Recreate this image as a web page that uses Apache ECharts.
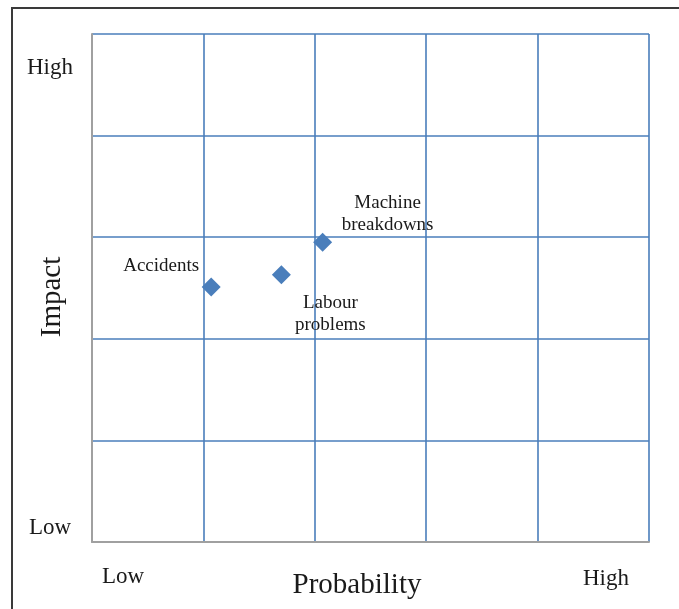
<!DOCTYPE html>
<html>
<head>
<meta charset="utf-8">
<script src="https://cdn.jsdelivr.net/npm/echarts@6/dist/echarts.min.js"></script>
<style>
  html, body { margin: 0; padding: 0; background: #fff; }
</style>
</head>
<body>
<div id="chart" style="width: 679px;height:609px;"></div>
<script>
// risk matrix data (probability / impact on a 0-5 grid)
const riskNames = ['Accidents', 'Labour\nproblems', 'Machine\nbreakdowns']
const probability = [1.07, 1.70, 2.07]
const impact = [2.51, 2.63, 2.95]
const labelOffsets = [[-50, -21], [49, 39], [65, -28]]

const levelLow = 'Low'
const levelHigh = 'High'
const xName = 'Probability'
const yName = 'Impact'

const blue = '#4a7ebb'
const serif = '"Liberation Serif", "Times New Roman", serif'

let myChart = echarts.init(document.getElementById('chart'))

let option = {
  animation: false,
  grid: {
    left: 92,
    top: 34,
    right: 30,
    bottom: 67
  },
  xAxis: {
    type: 'value',
    min: 0,
    max: 5,
    interval: 1,
    axisLine: { show: true, lineStyle: { color: '#a0a0a0', width: 2 } },
    axisTick: { show: false },
    axisLabel: { show: false },
    splitLine: { show: true, lineStyle: { color: blue, width: 1.6 } }
  },
  yAxis: {
    type: 'value',
    min: 0,
    max: 5,
    interval: 1,
    axisLine: { show: true, lineStyle: { color: '#a0a0a0', width: 2 } },
    axisTick: { show: false },
    axisLabel: { show: false },
    splitLine: { show: true, lineStyle: { color: blue, width: 1.6 } }
  },
  series: [{
    type: 'scatter',
    symbol: 'diamond',
    symbolSize: 19,
    itemStyle: { color: '#4a7ebb', opacity: 1 },
    data: riskNames.map(function (name, i) {
      return {
        name: name,
        value: [probability[i], impact[i]],
        label: {
          show: true,
          position: 'inside',
          offset: labelOffsets[i],
          formatter: name,
          color: '#1a1a1a',
          fontFamily: serif,
          fontSize: 19,
          lineHeight: 22,
          align: 'center',
          verticalAlign: 'middle'
        }
      }
    })
  }],
  graphic: [
    {
      type: 'rect',
      shape: { x: 12, y: 8, width: 720, height: 700 },
      style: { fill: null, stroke: '#3a3a3a', lineWidth: 2 },
      silent: true
    },
    {
      type: 'text', x: 50, y: 68,
      style: { text: levelHigh, font: '23px ' + serif, fill: '#1a1a1a', align: 'center', verticalAlign: 'middle' }
    },
    {
      type: 'text', x: 50, y: 528,
      style: { text: levelLow, font: '23px ' + serif, fill: '#1a1a1a', align: 'center', verticalAlign: 'middle' }
    },
    {
      type: 'text', x: 123, y: 577,
      style: { text: levelLow, font: '23px ' + serif, fill: '#1a1a1a', align: 'center', verticalAlign: 'middle' }
    },
    {
      type: 'text', x: 606, y: 579,
      style: { text: levelHigh, font: '23px ' + serif, fill: '#1a1a1a', align: 'center', verticalAlign: 'middle' }
    },
    {
      type: 'text', x: 357, y: 585,
      style: { text: xName, font: '29px ' + serif, fill: '#1a1a1a', align: 'center', verticalAlign: 'middle' }
    },
    {
      type: 'text', x: 52, y: 297, rotation: Math.PI / 2,
      style: { text: yName, font: '29px ' + serif, fill: '#1a1a1a', align: 'center', verticalAlign: 'middle' }
    }
  ]
}
myChart.setOption(option, true)
</script>
</body>
</html>
